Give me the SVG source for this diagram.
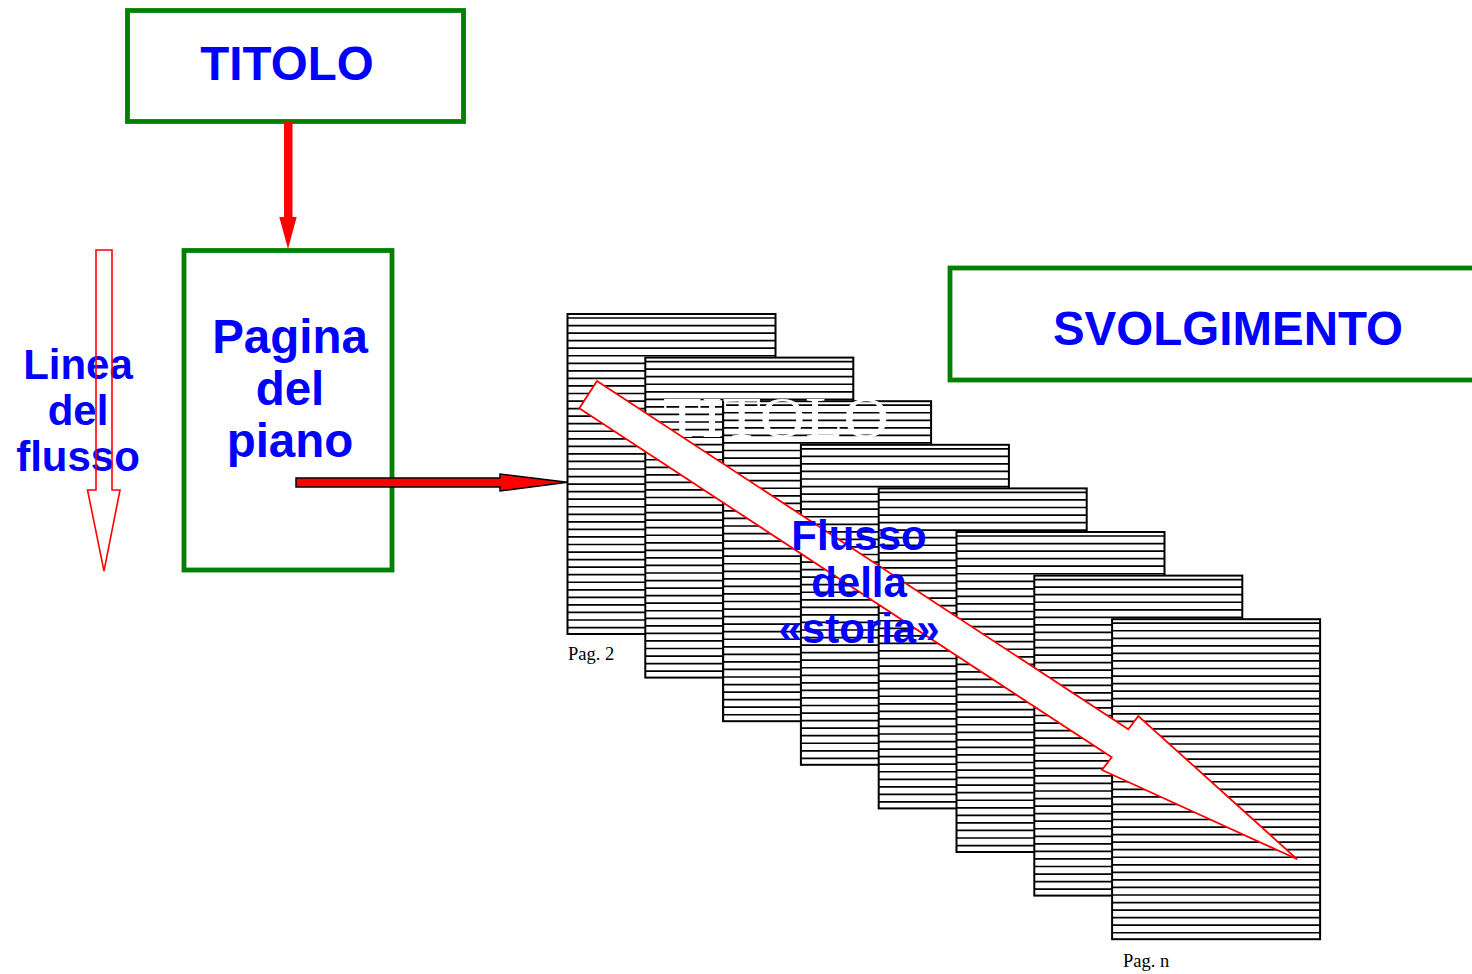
<svg xmlns="http://www.w3.org/2000/svg" xmlns:xlink="http://www.w3.org/1999/xlink" width="1472" height="974" viewBox="0 0 1472 974">
<style>
.box{fill:#fff;stroke:#008000;stroke-width:4.8}
.lbl{font-family:"Liberation Sans",Arial,sans-serif;font-weight:bold;fill:#0000ff;text-anchor:middle}
.pg{font-family:"Liberation Serif","Times New Roman",serif;font-size:18.5px;fill:#000}
.hollow{fill:none;stroke:#ff0000;stroke-width:1.6}
</style>
<defs>
<g id="page">
<rect x="0" y="0" width="208" height="320" fill="#fff"/>
<path d="M0 4H208M0 11.55H208M0 19.1H208M0 26.65H208M0 34.2H208M0 41.75H208M0 49.3H208M0 56.85H208M0 64.4H208M0 71.95H208M0 79.5H208M0 87.05H208M0 94.6H208M0 102.15H208M0 109.7H208M0 117.25H208M0 124.8H208M0 132.35H208M0 139.9H208M0 147.45H208M0 155H208M0 162.55H208M0 170.1H208M0 177.65H208M0 185.2H208M0 192.75H208M0 200.3H208M0 207.85H208M0 215.4H208M0 222.95H208M0 230.5H208M0 238.05H208M0 245.6H208M0 253.15H208M0 260.7H208M0 268.25H208M0 275.8H208M0 283.35H208M0 290.9H208M0 298.45H208M0 306H208M0 313.55H208" stroke="#000" stroke-width="1.7" fill="none"/>
<rect x="0" y="0" width="208" height="320" fill="none" stroke="#000" stroke-width="2"/>
</g>
</defs>

<g id="titolo">
<rect class="box" x="127.5" y="10.5" width="336" height="111"/>
<text class="lbl" x="287" y="80" font-size="47.5">TITOLO</text>
</g>

<g id="pagina-del-piano">
<rect class="box" x="184" y="250.5" width="208" height="319.5"/>
<text class="lbl" x="290" y="353" font-size="47.5">Pagina</text>
<text class="lbl" x="290" y="405" font-size="47.5">del</text>
<text class="lbl" x="290" y="457" font-size="47.5">piano</text>
</g>

<g id="svolgimento">
<rect class="box" x="950" y="268" width="540" height="112"/>
<text class="lbl" x="1228" y="345" font-size="47.5">SVOLGIMENTO</text>
</g>

<g id="linea-del-flusso">
<text class="lbl" x="78" y="379" font-size="42">Linea</text>
<text class="lbl" x="78" y="425" font-size="42">del</text>
<text class="lbl" x="78" y="471" font-size="42">flusso</text>
<polygon class="hollow" points="96,250 112,250 112,490 120,490 104,571 87.5,490 96,490"/>
</g>

<g id="pages">
<g id="page-1"><use xlink:href="#page" x="567.5" y="314"/></g>
<g id="page-2"><use xlink:href="#page" x="645.3" y="357.6"/></g>
<g id="page-3"><use xlink:href="#page" x="723.1" y="401.2"/>
<text x="663" y="437" font-family="'Liberation Serif','Times New Roman',serif" font-size="58" fill="#fff" textLength="226" lengthAdjust="spacingAndGlyphs">TITOLO</text>
<path d="M723.1 401.2V721.2" stroke="#000" stroke-width="2"/>
</g>
<g id="page-4"><use xlink:href="#page" x="800.9" y="444.8"/></g>
<g id="page-5"><use xlink:href="#page" x="878.7" y="488.4"/></g>
<g id="page-6"><use xlink:href="#page" x="956.5" y="532"/></g>
<g id="page-7"><use xlink:href="#page" x="1034.3" y="575.6"/></g>
<g id="page-8"><use xlink:href="#page" x="1112.1" y="619.2"/></g>
<text class="pg" x="568" y="660">Pag. 2</text>
<text class="pg" x="1123" y="967">Pag. n</text>
</g>

<g id="connectors">
<rect x="284" y="122" width="8.5" height="96" fill="#ff0000"/>
<polygon points="279.3,217 296.7,217 288,249" fill="#ff0000"/>
<polygon points="296,478 500,478 500,474 567.5,482.3 500,491 500,487 296,487" fill="#ff0000" stroke="#000" stroke-width="1.5"/>
</g>

<g id="flusso-della-storia">
<polygon points="597,381 1128.3,729.3 1138.3,716 1297.3,859.3 1102,770 1111.7,757.3 579.3,408.3" fill="#fff" stroke="#ff0000" stroke-width="1.8"/>
<text class="lbl" x="859" y="550" font-size="42">Flusso</text>
<text class="lbl" x="859" y="597" font-size="42">della</text>
<text class="lbl" x="859" y="643" font-size="42">«storia»</text>
</g>
</svg>
